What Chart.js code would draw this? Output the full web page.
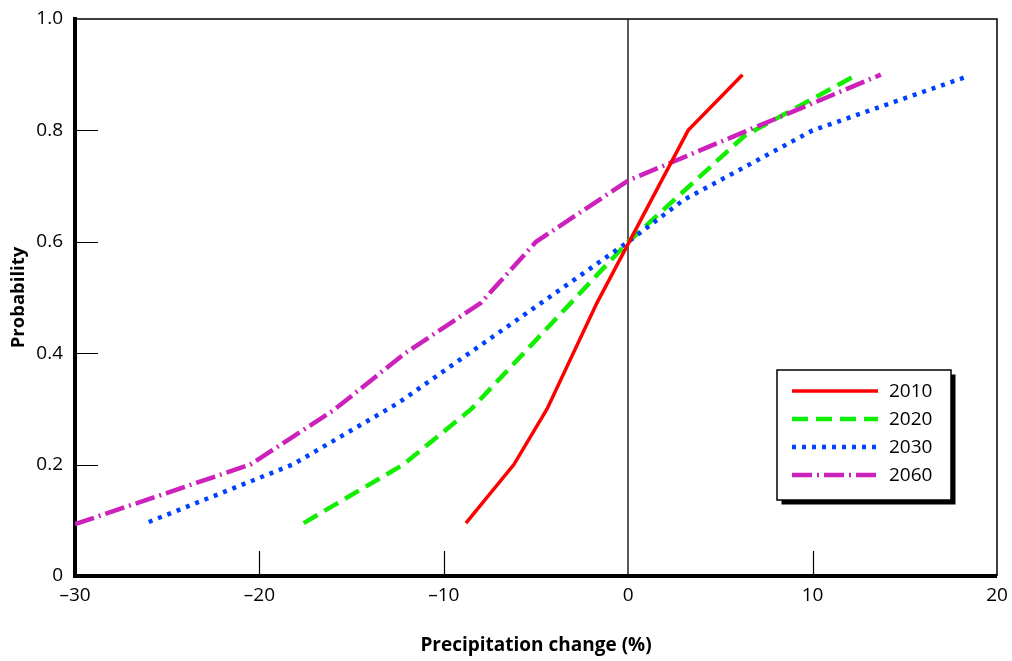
<!DOCTYPE html>
<html><head><meta charset="utf-8">
<script src="https://cdn.jsdelivr.net/npm/chart.js@4"></script>
<style>html,body{margin:0;padding:0;background:#fff;} canvas{display:block;}</style>
</head><body>
<canvas id="c" width="1012" height="661"></canvas>
<script>
// ---- data ----
const seriesNames = ['2010', '2020', '2030', '2060'];
const x2010 = [-8.8, -6.2, -4.4, -1.7, 3.25, 6.2];
const y2010 = [0.095, 0.2, 0.3, 0.49, 0.8, 0.9];
const x2020 = [-17.6, -12.2, -8.5, 0, 6.3, 12.4];
const y2020 = [0.095, 0.2, 0.3, 0.6, 0.79, 0.9];
const x2030 = [-26, -18.2, -12.5, -4.3, 0, 3, 10, 18.4];
const y2030 = [0.097, 0.2, 0.31, 0.5, 0.6, 0.675, 0.8, 0.897];
const x2060 = [-30, -20.5, -16, -12.1, -8, -5, 0, 13.7];
const y2060 = [0.093, 0.2, 0.297, 0.4, 0.49, 0.6, 0.71, 0.9];
const xTickValues = [-30, -20, -10, 0, 10, 20];
const xTickLabels = ['–30', '–20', '–10', '0', '10', '20'];
const yTickValues = [0, 0.2, 0.4, 0.6, 0.8, 1.0];
const yTickLabels = ['0', '0.2', '0.4', '0.6', '0.8', '1.0'];
const xTitle = 'Precipitation change (%)';
const yTitle = 'Probability';

const FONT = "'Open Sans', 'Noto Sans', sans-serif";
const toPts = (xs, ys) => xs.map((x, i) => ({x: x, y: ys[i]}));

const datasets = [
  {label: seriesNames[0], data: toPts(x2010, y2010), borderColor: '#ff0000', borderWidth: 3.5, borderDash: [], order: 1},
  {label: seriesNames[1], data: toPts(x2020, y2020), borderColor: '#11ee00', borderWidth: 4.5, borderDash: [16, 8], order: 4},
  {label: seriesNames[2], data: toPts(x2030, y2030), borderColor: '#0040ff', borderWidth: 4.5, borderDash: [4, 6], order: 2},
  {label: seriesNames[3], data: toPts(x2060, y2060), borderColor: '#cc22bb', borderWidth: 4.5, borderDash: [20, 5, 2, 5], order: 3}
].map(d => Object.assign(d, {showLine: true, pointRadius: 0, fill: false, tension: 0, borderCapStyle: 'butt', borderJoinStyle: 'miter'}));

const framePlugin = {
  id: 'frame',
  afterDraw(chart) {
    const {ctx, chartArea: a, scales} = chart;
    ctx.save();
    // thin top and right frame
    ctx.strokeStyle = '#000';
    ctx.lineWidth = 1.5;
    ctx.beginPath();
    ctx.moveTo(a.left, a.top); ctx.lineTo(a.right, a.top); ctx.lineTo(a.right, a.bottom);
    ctx.stroke();
    // inward tick marks
    ctx.lineWidth = 1.2;
    ctx.beginPath();
    xTickValues.forEach(v => {
      if (v === xTickValues[0] || v === 0 || v === xTickValues[xTickValues.length - 1]) return;
      const px = Math.round(scales.x.getPixelForValue(v)) + 0.5;
      ctx.moveTo(px, a.bottom); ctx.lineTo(px, a.bottom - 25);
    });
    yTickValues.forEach(v => {
      if (v === 0 || v === 1) return;
      const py = Math.round(scales.y.getPixelForValue(v)) + 0.5;
      ctx.moveTo(a.left, py); ctx.lineTo(a.left + 23, py);
    });
    ctx.stroke();
    // legend
    const lx = 777, ly = 370, lw = 174, lh = 130;
    ctx.fillStyle = '#000';
    ctx.fillRect(lx + 4.5, ly + 4.5, lw, lh);
    ctx.fillStyle = '#fff';
    ctx.fillRect(lx, ly, lw, lh);
    ctx.lineWidth = 1.5;
    ctx.strokeStyle = '#000';
    ctx.strokeRect(lx, ly, lw, lh);
    chart.data.datasets.forEach((ds, i) => {
      const ry = 391 + i * 28;
      ctx.strokeStyle = ds.borderColor;
      ctx.lineWidth = ds.borderWidth;
      ctx.lineCap = 'butt';
      ctx.setLineDash(ds.borderDash);
      ctx.beginPath(); ctx.moveTo(792, ry); ctx.lineTo(878, ry); ctx.stroke();
      ctx.setLineDash([]);
      ctx.fillStyle = '#000';
      ctx.font = '19px ' + FONT;
      ctx.textBaseline = 'middle';
      ctx.textAlign = 'left';
      ctx.fillText(ds.label, 889, ry + 1);
    });
    ctx.restore();
  }
};

new Chart(document.getElementById('c'), {
  type: 'scatter',
  data: {datasets: datasets},
  options: {
    responsive: false,
    animation: false,
    devicePixelRatio: 1,
    layout: {padding: {top: 19, right: 15, left: 0, bottom: 0}},
    plugins: {legend: {display: false}, tooltip: {enabled: false}},
    scales: {
      x: {
        type: 'linear', min: xTickValues[0], max: xTickValues[xTickValues.length - 1],
        afterBuildTicks: s => { s.ticks = xTickValues.map(v => ({value: v})); },
        afterFit: s => { s.height = 85; s.paddingLeft = 0; s.paddingRight = 0; },
        border: {display: true, color: '#000', width: 4},
        grid: {
          drawTicks: false, drawOnChartArea: true,
          color: c => (c.tick && c.tick.value === 0) ? '#5a5a5a' : 'rgba(0,0,0,0)',
          lineWidth: c => (c.tick && c.tick.value === 0) ? 2 : 0
        },
        ticks: {
          padding: 8, color: '#000', font: {family: FONT, size: 19}, maxRotation: 0,
          callback: (v) => xTickLabels[xTickValues.indexOf(v)]
        },
        title: {display: true, text: xTitle, color: '#000', font: {family: FONT, size: 19, weight: 'bold'}, padding: {top: 4, bottom: 4}}
      },
      y: {
        type: 'linear', min: 0, max: 1,
        afterBuildTicks: s => { s.ticks = yTickValues.map(v => ({value: v})); },
        afterFit: s => { s.width = 75; s.paddingTop = 0; s.paddingBottom = 0; },
        border: {display: true, color: '#000', width: 4},
        grid: {display: false, drawTicks: false},
        ticks: {
          padding: 12, color: '#000', font: {family: FONT, size: 19},
          callback: (v) => yTickLabels[yTickValues.findIndex(t => Math.abs(t - v) < 1e-9)]
        },
        title: {display: true, text: yTitle, color: '#000', font: {family: FONT, size: 18.5, weight: 'bold'}, padding: {top: 8, bottom: 4}}
      }
    }
  },
  plugins: [framePlugin]
});
</script>
</body></html>
